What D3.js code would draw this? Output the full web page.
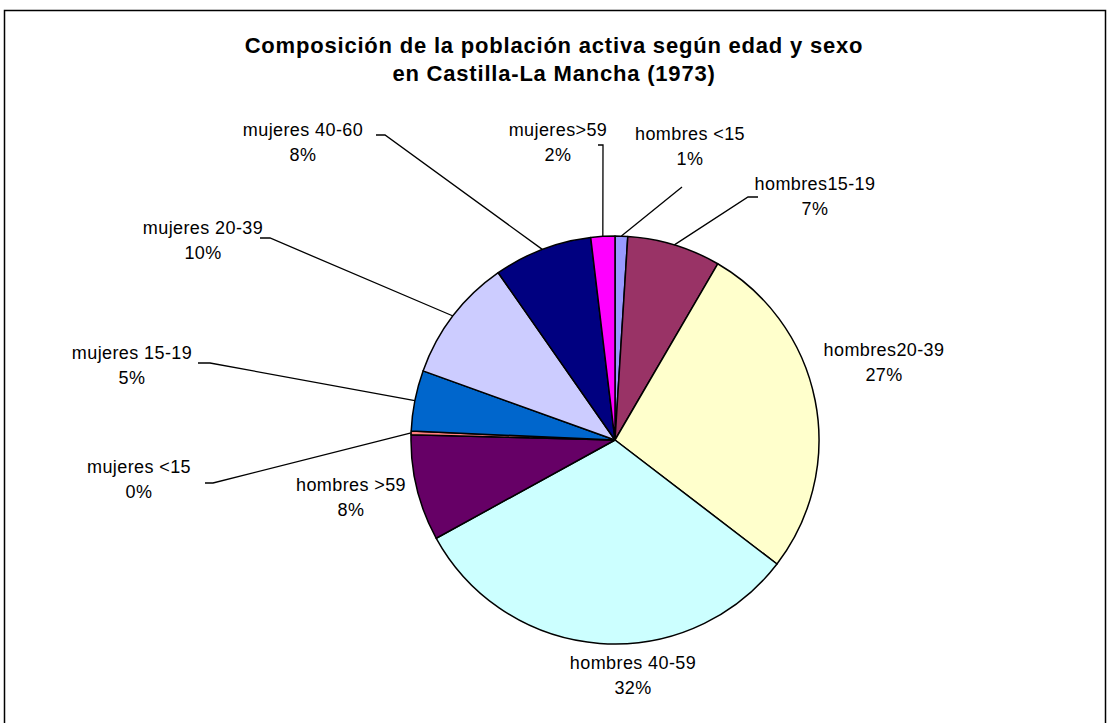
<!DOCTYPE html>
<html>
<head>
<meta charset="utf-8">
<script src="https://cdn.jsdelivr.net/npm/d3@7"></script>
<style>
  body { margin: 0; background: #fff; }
  svg text { font-family: "Liberation Sans", Arial, sans-serif; fill: #000; }
</style>
</head>
<body>
<div id="chart"><svg></svg></div>
<script>

var width = 1109,
    height = 723;

// Data (share of active population, %).
var categories = ["hombres <15", "hombres15-19", "hombres20-39", "hombres 40-59", "hombres >59",
                  "mujeres <15", "mujeres 15-19", "mujeres 20-39", "mujeres 40-60", "mujeres>59"];
var values = [1.0, 7.4, 27.0, 31.6, 8.4, 0.3, 4.8, 9.8, 7.8, 1.9];
var colors = ["#9999FF", "#993366", "#FFFFCC", "#CCFFFF", "#660066",
              "#FF8080", "#0066CC", "#CCCCFF", "#000080", "#FF00FF"];
var titleLines = ["Composición de la población activa según edad y sexo",
                  "en Castilla-La Mancha (1973)"];

// Label layout: text centre and the start of the leader line (null = no leader).
var labelLayout = [
    { x: 690, y: 134, leader: [[682, 187]] },
    { x: 815, y: 184, leader: [[758, 197], [748, 197]] },
    { x: 884, y: 350, leader: null },
    { x: 633, y: 663, leader: null },
    { x: 351, y: 485, leader: null },
    { x: 139, y: 467, leader: [[205, 483], [213, 483]] },
    { x: 132, y: 353, leader: [[198, 363], [210, 363]] },
    { x: 203, y: 228, leader: [[260, 238], [270, 238]] },
    { x: 303, y: 130, leader: [[376, 135], [385, 135]] },
    { x: 558, y: 130, leader: [[598, 145], [603, 145]] }
];

var cx = 615, cy = 440, radius = 204;

var svg = d3.select("#chart svg")
    .attr("width", width)
    .attr("height", height);

// Chart area frame
svg.append("rect")
    .attr("x", 4.5)
    .attr("y", 10.5)
    .attr("width", 1101)
    .attr("height", 720)
    .attr("fill", "#fff")
    .attr("stroke", "#000")
    .attr("stroke-width", 1.5);

svg.append("g")
    .selectAll("text")
    .data(titleLines)
    .enter().append("text")
        .attr("x", 554)
        .attr("y", (d, i) => 53 + i * 28)
        .attr("text-anchor", "middle")
        .attr("font-size", "22px")
        .attr("font-weight", "bold")
        .attr("letter-spacing", "0.8px")
        .text((d) => d);

var total = d3.sum(values);
var slices = categories.map((c, i) => ({ name: c, value: values[i], color: colors[i], layout: labelLayout[i] }));

var pie = d3.pie()
    .sort(null)
    .value((d) => d.value);

var arc = d3.arc()
    .innerRadius(0)
    .outerRadius(radius);

var edge = d3.arc()
    .innerRadius(radius)
    .outerRadius(radius);

var arcs = pie(slices);

var pie_layer = svg.append("g")
    .attr("transform", "translate(" + cx + "," + cy + ")");

pie_layer.selectAll("path")
    .data(arcs)
    .enter().append("path")
        .attr("d", arc)
        .attr("fill", (d) => d.data.color)
        .attr("stroke", "#000")
        .attr("stroke-width", 1.5)
        .attr("stroke-linejoin", "round");

// Leader lines from label to the middle of the slice edge.
var line = d3.line();
svg.append("g")
    .selectAll("path")
    .data(arcs.filter((d) => d.data.layout.leader))
    .enter().append("path")
        .attr("d", function(d) {
            let c = edge.centroid(d);
            let pts = d.data.layout.leader.concat([[cx + c[0], cy + c[1]]]);
            return line(pts);
        })
        .attr("fill", "none")
        .attr("stroke", "#000")
        .attr("stroke-width", 1.3);

var labels = svg.append("g")
    .selectAll("text")
    .data(arcs)
    .enter().append("text")
        .attr("text-anchor", "middle")
        .attr("font-size", "18px")
        .attr("letter-spacing", "0.4px");

labels.append("tspan")
    .attr("x", (d) => d.data.layout.x)
    .attr("y", (d) => d.data.layout.y + 6)
    .text((d) => d.data.name);

labels.append("tspan")
    .attr("x", (d) => d.data.layout.x)
    .attr("y", (d) => d.data.layout.y + 31)
    .text((d) => Math.round(d.data.value / total * 100) + "%");

</script>
</body>
</html>
